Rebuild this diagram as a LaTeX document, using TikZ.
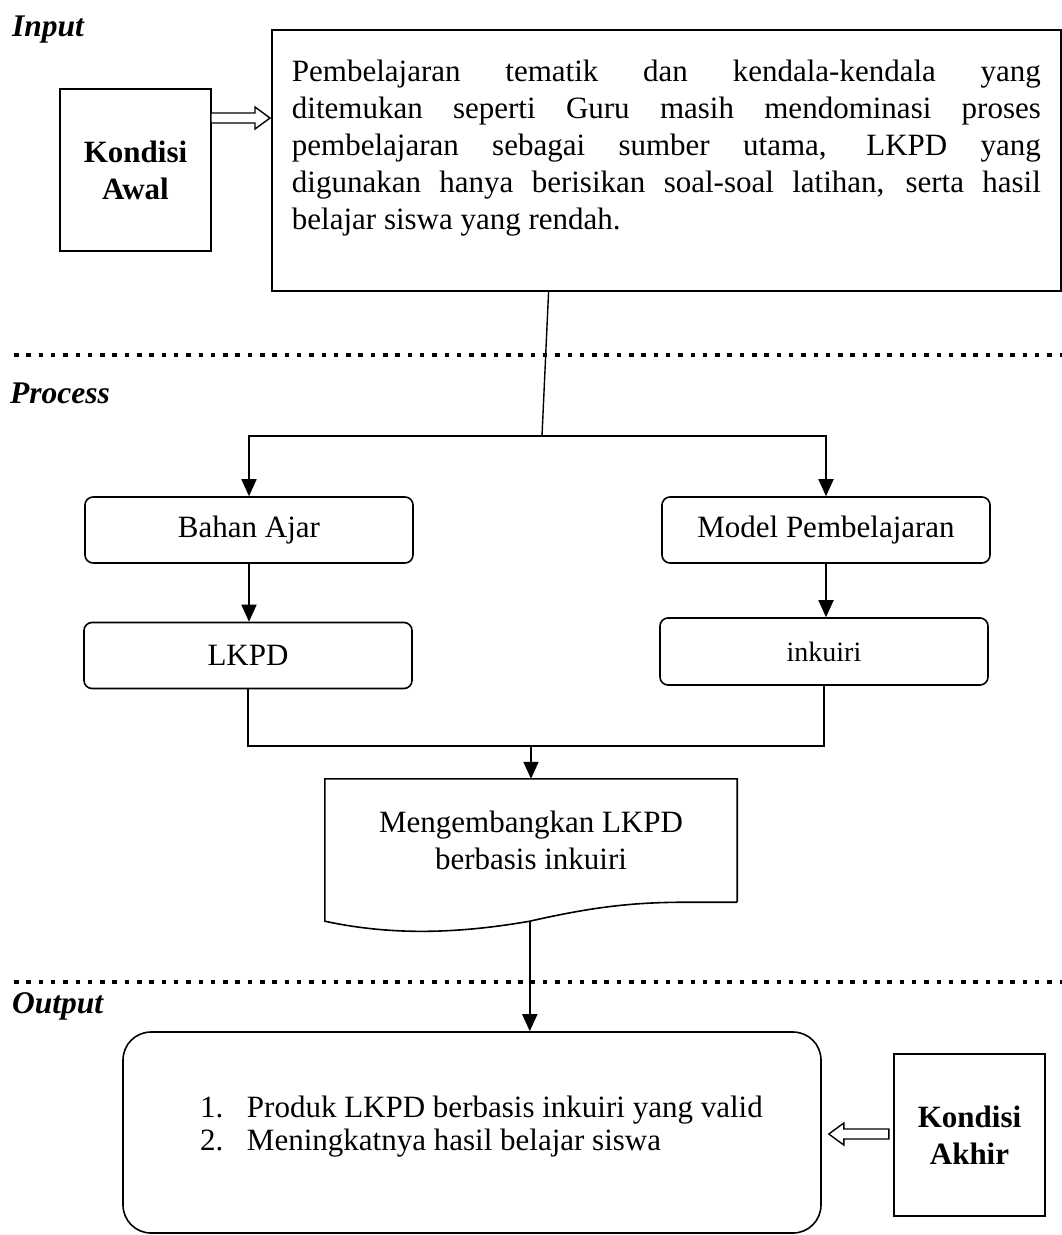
\documentclass[tikz,border=0pt]{standalone}
\usepackage{fontspec}
\setmainfont{Liberation Serif}
\usetikzlibrary{calc,arrows.meta}
\tikzstyle{kondisi}=[draw,line width=1.6pt,minimum width=151pt,minimum height=162pt,align=center,font=\fontsize{31}{37}\selectfont\bfseries]
\tikzstyle{kotak}=[draw,line width=1.6pt,rounded corners=8pt,minimum width=328pt,minimum height=66pt,font=\fontsize{31}{37}\selectfont]
\tikzstyle{garis}=[line width=1.8pt]
\tikzstyle{panah}=[line width=1.8pt,-{Triangle[length=17pt,width=15pt]}]
\tikzstyle{blok}=[draw,line width=1.4pt,fill=white,line join=miter]
\tikzstyle{titik}=[line width=4.5pt,dash pattern=on 4.5pt off 7.8pt]
\tikzstyle{bagian}=[anchor=base west,inner sep=0pt,font=\fontsize{31.5}{36}\selectfont\bfseries\itshape]

\begin{document}
\begin{tikzpicture}[x=1pt,y=-1pt]

      \useasboundingbox (0,0) rectangle (1062,1235);

      \node[bagian] (input) at (12,36) {Input};
      \node[bagian] (process) at (10,403) {Process};
      \node[bagian] (output) at (12,1013) {Output};

      \draw[titik] (14,355) -- (1062,355);
      \draw[titik] (14,982) -- (1062,982);

      % input
      \node[kondisi] (awal) at (135.5,170) {Kondisi\\Awal};
      \node[draw,line width=1.8pt,anchor=north west,inner xsep=20pt,inner ysep=0pt] (masalah) at (271,29)
        {\parbox[c][261pt][t]{749pt}{\fontsize{31}{37}\selectfont\hyphenpenalty=10000\exhyphenpenalty=10000
         \vspace*{30pt}Pembelajaran tematik dan kendala-kendala yang\linebreak
         ditemukan seperti Guru masih mendominasi proses\linebreak
         pembelajaran sebagai sumber utama, LKPD yang\linebreak
         digunakan hanya berisikan soal-soal latihan, serta hasil\linebreak
         belajar siswa yang rendah.}};

      \coordinate (ujungA) at ([xshift=-1pt,yshift=-89pt]masalah.north west);
      \draw[blok] (ujungA) -- ++(-15,-11) -- ++(0,6) -- ++(-44,0) -- ++(0,10) -- ++(44,0) -- ++(0,6) -- cycle;

      % process
      \node[kotak] (bahan) at (249,530) {Bahan Ajar};
      \node[kotak] (model) at (826,530) {Model Pembelajaran};
      \node[kotak] (lkpd) at (248,655.5) {LKPD};
      \node[kotak,minimum height=67pt,font=\fontsize{28}{34}\selectfont] (inkuiri) at (824,651.5) {inkuiri};

      \node[minimum width=412pt,minimum height=123pt,align=center,font=\fontsize{31}{37}\selectfont] (doc) at (531,840.5)
        {Mengembangkan LKPD\\berbasis inkuiri};
      \coordinate (w1) at ([yshift=-19pt]doc.south west);
      \coordinate (keluar) at ([xshift=205pt]w1);
      \draw[line width=1.6pt] (doc.south east) -- (doc.north east) -- (doc.north west) -- (w1)
        .. controls ([xshift=65pt,yshift=-14pt]w1) and ([xshift=130pt,yshift=-13pt]w1) .. (keluar)
        .. controls ([xshift=275pt,yshift=16pt]w1) and ([xshift=315pt,yshift=19pt]w1) .. ([xshift=365pt,yshift=19pt]w1)
        -- (doc.south east);

      \coordinate (split) at (542,436);
      \coordinate (gabung) at (531,746);
      \draw[garis,line width=1.4pt] ($(masalah.south west)!0.351!(masalah.south east)$) -- (split);
      \draw[panah] (split) -| (bahan.north);
      \draw[panah] (split) -| (model.north);
      \draw[panah] (bahan.south) -- (bahan.south |- lkpd.north);
      \draw[panah] (model.south) -- (model.south |- inkuiri.north);
      \draw[garis] (lkpd.south) |- (gabung) -| (inkuiri.south);
      \draw[panah] (gabung) -- (doc.north);

      % output
      \node[draw,line width=1.6pt,rounded corners=28pt,minimum width=698pt,minimum height=201pt,inner sep=0pt,
        font=\fontsize{31}{33}\selectfont] (hasil) at (472,1132.5)
        {\hspace*{77pt}\begin{tabular}{@{}p{47pt}@{}p{574pt}@{}}
          1. & Produk LKPD berbasis inkuiri yang valid\\
          2. & Meningkatnya hasil belajar siswa
         \end{tabular}\rule[-37pt]{0pt}{1pt}};
      \node[kondisi] (akhir) at (969.5,1135) {Kondisi\\Akhir};

      \draw[panah] (keluar) -- (keluar |- hasil.north);

      \coordinate (ujungB) at ([xshift=7pt,yshift=-1.5pt]hasil.east);
      \draw[blok] (ujungB) -- ++(15,-11) -- ++(0,6) -- ++(45,0) -- ++(0,10) -- ++(-45,0) -- ++(0,6) -- cycle;

\end{tikzpicture}
\end{document}
